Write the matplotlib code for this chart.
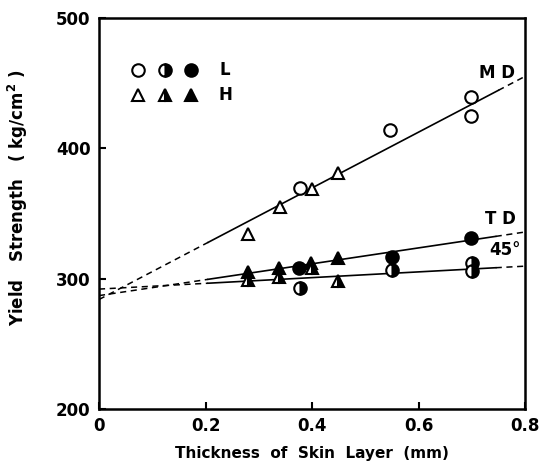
import numpy as np
import matplotlib.pyplot as plt

plt.rcParams['font.family'] = 'DejaVu Sans'
plt.rcParams['font.weight'] = 'bold'

# MD (open markers)
md_circle_x = [0.377, 0.546, 0.698, 0.698]
md_circle_y = [369.5, 414, 439.5, 424.5]
md_tri_x = [0.280, 0.340, 0.400, 0.449]
md_tri_y = [334, 355, 369, 381]

# TD (filled markers)
td_circle_x = [0.376, 0.550, 0.699]
td_circle_y = [308, 317, 331.5]
td_tri_x = [0.280, 0.338, 0.399, 0.449]
td_tri_y = [305, 308, 312, 315.5]

# 45 deg (half-filled markers)
d45_circle_x = [0.377, 0.550, 0.700, 0.700]
d45_circle_y = [293, 306.5, 312, 305.5]
d45_tri_x = [0.280, 0.338, 0.400, 0.449]
d45_tri_y = [299, 301, 308, 298.5]

# fitted lines: (intercept, slope, solid start, solid end)
fit_lines = {
    'MD': (284, 214, 0.205, 0.75),
    'TD': (287, 61, 0.205, 0.745),
    '45': (292, 22, 0.205, 0.745),
}

fig = plt.figure(figsize=(5.41, 4.69), dpi=100)
ax = fig.add_axes([99 / 541, 60 / 469, 426 / 541, 391 / 469])

for name, (b, m, x0, x1) in fit_lines.items():
    xs = np.array([x0, x1])
    ax.plot(xs, b + m * xs, color='black', lw=1.2)
    xd = np.array([0, x0])
    ax.plot(xd, b + m * xd, color='black', lw=1.1, dashes=(4, 3))
    xd = np.array([x1, 0.8])
    ax.plot(xd, b + m * xd, color='black', lw=1.1, dashes=(4, 3))

ms = 9
kw = dict(color='black', markeredgecolor='black', markeredgewidth=1.5, ls='none', clip_on=False)
half = dict(fillstyle='right', markerfacecolor='black', markerfacecoloralt='white')
ax.plot(md_circle_x, md_circle_y, 'o', markerfacecolor='white', markersize=ms, **kw)
ax.plot(md_tri_x, md_tri_y, '^', markerfacecolor='white', markersize=ms, **kw)
ax.plot(td_circle_x, td_circle_y, 'o', markerfacecolor='black', markersize=ms, **kw)
ax.plot(td_tri_x, td_tri_y, '^', markerfacecolor='black', markersize=ms, **kw)
ax.plot(d45_circle_x, d45_circle_y, 'o', markersize=ms, **half, **kw)
ax.plot(d45_tri_x, d45_tri_y, '^', markersize=ms, **half, **kw)

# legend drawn as in the original
leg_x = [0.073, 0.124, 0.173]
ax.plot(leg_x[0], 460, 'o', markerfacecolor='white', markersize=ms, **kw)
ax.plot(leg_x[1], 460, 'o', markersize=ms, **half, **kw)
ax.plot(leg_x[2], 460, 'o', markerfacecolor='black', markersize=ms, **kw)
ax.plot(leg_x[0], 441, '^', markerfacecolor='white', markersize=ms, **kw)
ax.plot(leg_x[1], 441, '^', markersize=ms, **half, **kw)
ax.plot(leg_x[2], 441, '^', markerfacecolor='black', markersize=ms, **kw)
ax.text(0.237, 460, 'L', fontsize=12, fontweight='bold', ha='center', va='center')
ax.text(0.237, 441, 'H', fontsize=12, fontweight='bold', ha='center', va='center')

ax.text(0.747, 458, 'M D', fontsize=12, fontweight='bold', ha='center', va='center')
ax.text(0.753, 346, 'T D', fontsize=12, fontweight='bold', ha='center', va='center')
ax.text(0.762, 322, '45°', fontsize=12, fontweight='bold', ha='center', va='center')

ax.set_xlim(0, 0.8)
ax.set_ylim(200, 500)
ax.set_xticks([0, 0.2, 0.4, 0.6, 0.8])
ax.set_xticklabels(['0', '0.2', '0.4', '0.6', '0.8'])
ax.set_yticks([200, 300, 400, 500])
ax.tick_params(direction='in', length=5, width=1.5, labelsize=12, pad=6)
for lab in ax.get_xticklabels() + ax.get_yticklabels():
    lab.set_fontweight('bold')
for s in ax.spines.values():
    s.set_linewidth(1.8)

ax.set_xlabel('Thickness  of  Skin  Layer  (mm)', fontsize=11, fontweight='bold', labelpad=8)
ax.set_ylabel('Yield   Strength   ( kg/cm$^\\mathbf{2}$ )', fontsize=12, fontweight='bold')
ax.yaxis.set_label_coords(-0.163, 0.54)

fig.savefig('out.png', dpi=100)
